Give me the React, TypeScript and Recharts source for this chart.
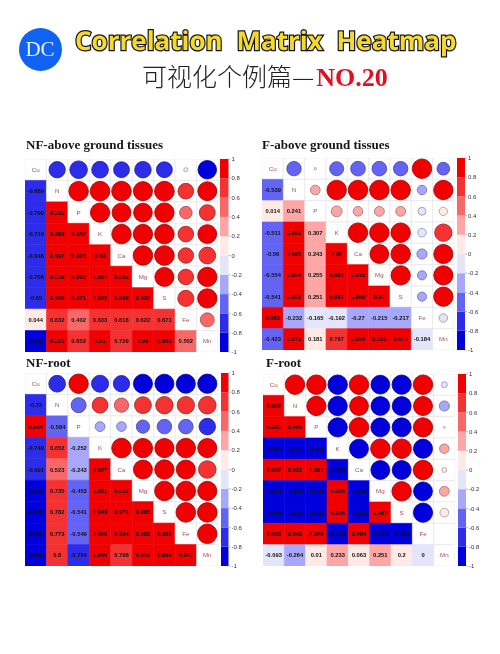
import React from "react";
import { ScatterChart, Scatter, XAxis, YAxis, ReferenceArea } from "recharts";

const elements = ["Cu", "N", "P", "K", "Ca", "Mg", "S", "Fe", "Mn"];
const legendTicks = [1, 0.8, 0.6, 0.4, 0.2, 0, -0.2, -0.4, -0.6, -0.8, -1];
const binColors = ["#0000dc", "#2c2cea", "#6464f4", "#a8a8fa", "#e4e4fa", "#ffeae6", "#fda6a6", "#f96868", "#f53232", "#f00000"];

const nfAbove = [
  [-0.689],
  [-0.799, 0.983],
  [-0.719, 0.989, 0.956],
  [-0.646, 0.997, 0.923, 0.98],
  [-0.706, 0.938, 0.902, 0.967, 0.982],
  [-0.65, 0.996, 0.971, 0.982, 0.999, 0.935],
  [0.044, 0.632, 0.402, 0.633, 0.618, 0.622, 0.671],
  [-0.882, 0.923, 0.652, 0.91, 0.729, 0.96, 0.961, 0.502],
];
const fAbove = [
  [-0.539],
  [0.014, 0.241],
  [-0.511, 0.983, 0.307],
  [-0.56, 0.995, 0.243, 0.98],
  [-0.554, 0.994, 0.255, 0.987, 0.916],
  [-0.541, 0.992, 0.251, 0.987, 0.988, 0.97],
  [0.982, -0.232, -0.165, -0.192, -0.27, -0.215, -0.217],
  [-0.423, 0.973, 0.181, 0.787, 0.956, 0.963, 0.974, -0.184],
];
const nfRoot = [
  [-0.72],
  [0.964, -0.584],
  [-0.749, 0.652, -0.252],
  [-0.691, 0.523, -0.243, 0.987],
  [-0.938, 0.735, -0.453, 0.961, 0.931],
  [-0.932, 0.782, -0.541, 0.943, 0.971, 0.985],
  [-0.932, 0.773, -0.549, 0.969, 0.934, 0.982, 0.991],
  [-0.951, 0.8, -0.704, 0.946, 0.798, 0.946, 0.989, 0.977],
];
const fRoot = [
  [0.982],
  [0.981, 0.966],
  [-0.984, -0.97, -0.961],
  [0.982, 0.931, 0.991, -0.939],
  [-0.921, -0.913, -0.931, 0.986, -0.932],
  [-0.961, -0.931, -0.941, 0.986, -0.933, 0.987],
  [0.983, 0.942, 0.966, -0.947, 0.984, -0.924, -0.962],
  [-0.093, -0.264, 0.01, 0.233, 0.063, 0.251, 0.2, 0],
];

const panels = [
  { title: "NF-above ground tissues", values: nfAbove, left: 25, top: 159, size: 193, titleX: 26, titleY: 136, barX: 220, barW: 8.5 },
  { title: "F-above ground tissues", values: fAbove, left: 262, top: 158, size: 192, titleX: 262, titleY: 136, barX: 457, barW: 8 },
  { title: "NF-root", values: nfRoot, left: 25, top: 373, size: 193, titleX: 26, titleY: 354, barX: 221, barW: 7.5 },
  { title: "F-root", values: fRoot, left: 263, top: 374, size: 192, titleX: 266, titleY: 354, barX: 458, barW: 8 },
];

const binOf = (v: number) => Math.min(9, Math.max(0, Math.ceil((v + 1) / 0.2 - 1e-9) - 1));
const colorOf = (v: number) => binColors[binOf(v)];
const darken = (hex: string) => {
  const n = parseInt(hex.slice(1), 16);
  const f = (c: number) => Math.round(c * 0.65).toString(16).padStart(2, "0");
  return `#${f((n >> 16) & 255)}${f((n >> 8) & 255)}${f(n & 255)}`;
};

function Circle(props: any) {
  const { cx, cy, payload, cell } = props;
  const r = (0.92 * Math.sqrt(Math.abs(payload.v)) * cell) / 2;
  const c = colorOf(payload.v);
  return <circle cx={cx} cy={cy} r={r} fill={c} stroke={darken(c)} strokeWidth={0.8} />;
}

function Label(props: any) {
  const { cx, cy, payload } = props;
  return (
    <text
      x={cx}
      y={cy}
      dy={2}
      textAnchor="middle"
      fontFamily="Liberation Sans"
      fontWeight={payload.diag ? 400 : 700}
      fontSize={payload.diag ? 6.2 : 5.8}
      fill={payload.diag ? "#a85050" : "#111"}
    >
      {payload.t}
    </text>
  );
}

function Panel({ p }: { p: (typeof panels)[number] }) {
  const cell = p.size / 9;
  const uppers: any[] = [];
  const lowers: any[] = [];
  const areas: any[] = [];
  for (let i = 0; i < 9; i++) {
    for (let j = 0; j < 9; j++) {
      let fill = "#ffffff";
      if (i > j) fill = colorOf(p.values[i - 1][j]);
      areas.push(
        <ReferenceArea key={`${i}-${j}`} x1={j} x2={j + 1} y1={i} y2={i + 1} fill={fill} fillOpacity={1} stroke={i > j ? fill : "#e4e4e8"} strokeWidth={0.6} ifOverflow="visible" />
      );
      if (i === j) lowers.push({ x: j + 0.5, y: i + 0.5, t: elements[i], diag: true });
      if (i > j) lowers.push({ x: j + 0.5, y: i + 0.5, t: String(p.values[i - 1][j]), diag: false });
      if (i < j) uppers.push({ x: j + 0.5, y: i + 0.5, v: p.values[j - 1][i] });
    }
  }
  const barH = p.size;
  return (
    <>
      <div
        style={{
          position: "absolute",
          left: p.titleX,
          top: p.titleY,
          fontFamily: "Liberation Serif",
          fontWeight: 700,
          fontSize: 13,
          lineHeight: "18px",
          color: "#161616",
          whiteSpace: "nowrap",
        }}
      >
        {p.title}
      </div>
      <div style={{ position: "absolute", left: p.left, top: p.top }}>
        <ScatterChart width={p.size} height={p.size} margin={{ top: 0, right: 0, bottom: 0, left: 0 }}>
          <XAxis type="number" dataKey="x" domain={[0, 9]} hide />
          <YAxis type="number" dataKey="y" domain={[0, 9]} reversed hide />
          {areas}
          <Scatter data={uppers} isAnimationActive={false} shape={(s: any) => <Circle {...s} cell={cell} />} />
          <Scatter data={lowers} isAnimationActive={false} shape={(s: any) => <Label {...s} />} />
        </ScatterChart>
      </div>
      <div style={{ position: "absolute", left: p.barX, top: p.top - 6 }}>
        <ScatterChart width={p.barW + 26} height={barH + 12} margin={{ top: 6, right: 0, bottom: 6, left: 0 }}>
          <XAxis type="number" dataKey="x" domain={[0, 1]} hide />
          <YAxis
            type="number"
            dataKey="y"
            orientation="right"
            domain={[-1, 1]}
            ticks={legendTicks}
            interval={0}
            width={26}
            axisLine={false}
            tickLine={{ stroke: "#8a8aa8", strokeWidth: 0.6 }}
            tickSize={2}
            tickMargin={1}
            tick={{ fontSize: 6, fontFamily: "Liberation Sans", fill: "#333" }}
          />
          {binColors.map((c, i) => (
            <ReferenceArea key={c} x1={0} x2={1} y1={-1 + i * 0.2} y2={-1 + (i + 1) * 0.2} fill={c} fillOpacity={1} stroke="none" ifOverflow="visible" />
          ))}
          <Scatter data={legendTicks.map((y) => ({ x: 0.5, y }))} isAnimationActive={false} shape={() => <g />} />
        </ScatterChart>
      </div>
    </>
  );
}

export default function App() {
  return (
    <div style={{ position: "absolute", left: 0, top: 0, width: 500, height: 654, background: "#fff", overflow: "hidden", filter: "blur(0.45px)" }}>
      <div
        style={{
          position: "absolute",
          left: 18.5,
          top: 27.5,
          width: 43,
          height: 43,
          borderRadius: "50%",
          background: "#0f62f2",
          color: "#e6f0ff",
          fontFamily: "Liberation Serif",
          fontSize: 21,
          lineHeight: "43px",
          textAlign: "center",
        }}
      >
        DC
      </div>
      <div
        style={{
          position: "absolute",
          left: 75,
          top: 22,
          fontFamily: "Open Sans",
          fontWeight: 700,
          fontSize: 26,
          lineHeight: "36px",
          letterSpacing: 0,
          wordSpacing: 7,
          textRendering: "geometricPrecision",
          color: "#f6d92a",
          WebkitTextStroke: "2.4px #141414",
          paintOrder: "stroke fill",
          whiteSpace: "nowrap",
        }}
      >
        Correlation Matrix Heatmap
      </div>
      <div
        style={{
          position: "absolute",
          left: 142,
          top: 58,
          fontFamily: "Noto Sans CJK SC",
          fontWeight: 300,
          fontSize: 25,
          lineHeight: "34px",
          color: "#222",
          whiteSpace: "nowrap",
        }}
      >
        可视化个例篇—
        <span style={{ fontFamily: "Liberation Serif", fontWeight: 700, fontSize: 26, marginLeft: 2, color: "#e01020" }}>NO.20</span>
      </div>
      {panels.map((p) => (
        <Panel key={p.title} p={p} />
      ))}
    </div>
  );
}
